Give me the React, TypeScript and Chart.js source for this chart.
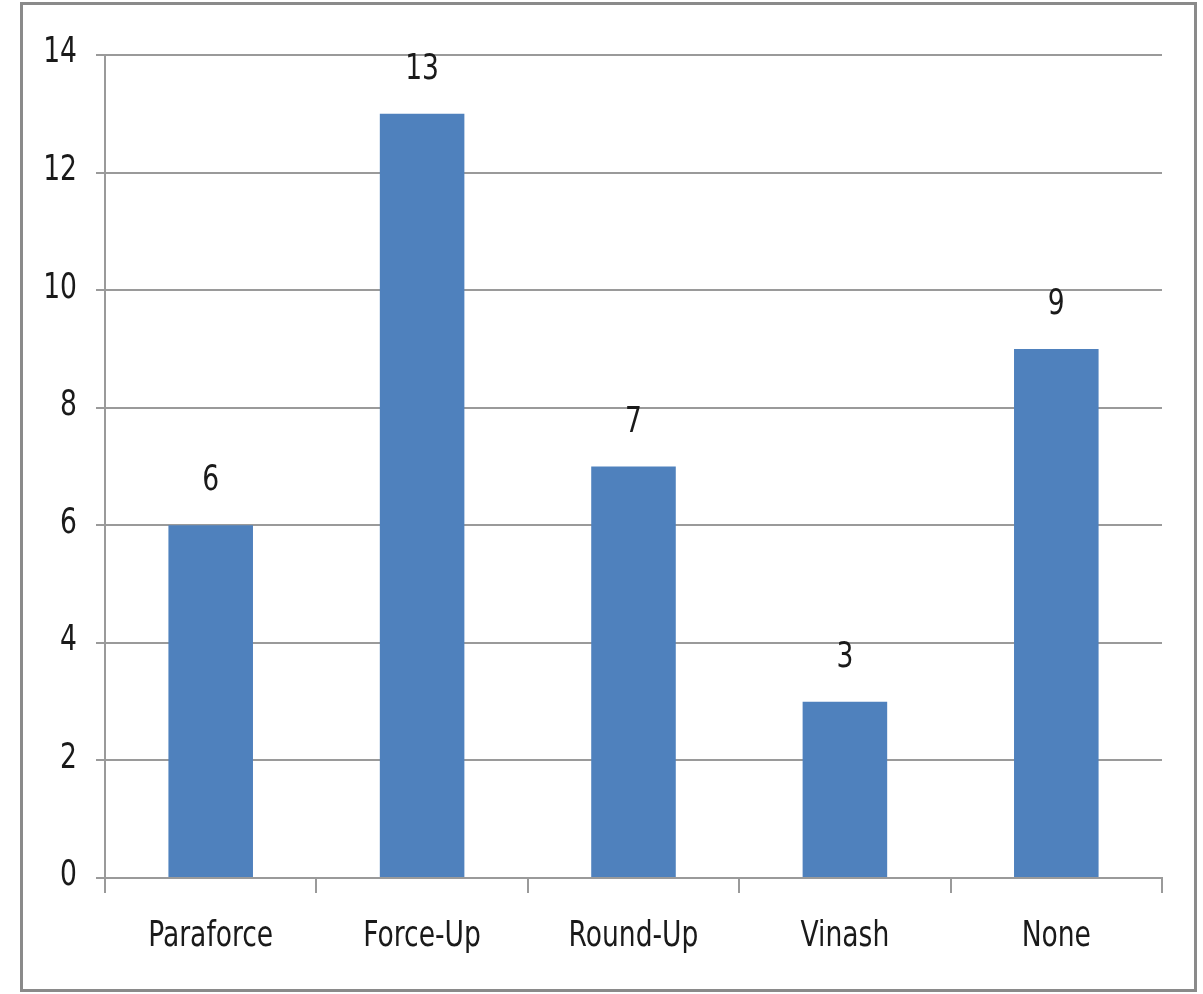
import React, { useEffect, useRef } from "react";
import { Chart, registerables } from "chart.js";

Chart.register(...registerables);

const categories = ["Paraforce", "Force-Up", "Round-Up", "Vinash", "None"];
const values = [6, 13, 7, 3, 9];
const yTicks = [0, 2, 4, 6, 8, 10, 12, 14];

const FONT = "'Liberation Sans Narrow', 'DejaVu Sans Condensed', 'Arial Narrow', sans-serif";
const BAR_COLOR = "#4F81BD";
const GRID = "#9a9a9a";
const TEXT = "#1a1a1a";
const SX = 0.82;

function drawText(ctx: CanvasRenderingContext2D, text: string, x: number, y: number, align: CanvasTextAlign) {
  ctx.save();
  ctx.translate(x, y);
  ctx.scale(SX, 1);
  ctx.textAlign = align;
  ctx.fillText(text, 0, 0);
  ctx.restore();
}

const textPlugin = {
  id: "textPlugin",
  afterDatasetsDraw(chart: any) {
    const ctx = chart.ctx as CanvasRenderingContext2D;
    const meta = chart.getDatasetMeta(0);
    const xs = chart.scales.x;
    const ys = chart.scales.y;
    ctx.save();
    ctx.font = `36px ${FONT}`;
    ctx.fillStyle = TEXT;
    // data labels
    ctx.textBaseline = "alphabetic";
    meta.data.forEach((el: any, i: number) => {
      drawText(ctx, String(values[i]), el.x, el.y - 35, "center");
    });
    // y tick labels
    ctx.textBaseline = "middle";
    yTicks.forEach((v) => {
      drawText(ctx, String(v), ys.right - 28, ys.getPixelForValue(v) - 2, "right");
    });
    // x tick labels
    categories.forEach((c, i) => {
      drawText(ctx, c, xs.getPixelForTick(i), xs.top + 59, "center");
    });
    ctx.restore();
  },
};

export default function App() {
  const ref = useRef<HTMLCanvasElement | null>(null);

  useEffect(() => {
    document.body.style.margin = "0";
    if (!ref.current) return;
    const chart = new Chart(ref.current, {
      type: "bar",
      data: {
        labels: categories,
        datasets: [
          {
            data: values,
            backgroundColor: BAR_COLOR,
            borderWidth: 0,
            barPercentage: 0.4,
            categoryPercentage: 1,
          },
        ],
      },
      options: {
        animation: false,
        responsive: false,
        maintainAspectRatio: false,
        layout: { padding: { left: 0, top: 55, right: 41, bottom: 0 } },
        plugins: {
          legend: { display: false },
          tooltip: { enabled: false },
        },
        scales: {
          x: {
            afterFit(scale: any) {
              scale.height = 116;
            },
            grid: {
              offset: true,
              drawOnChartArea: false,
              drawTicks: true,
              tickLength: 15,
              color: GRID,
              lineWidth: 2,
            },
            border: { color: GRID, width: 2 },
            ticks: { display: false, autoSkip: false },
          },
          y: {
            min: 0,
            max: 14,
            afterFit(scale: any) {
              scale.width = 105;
            },
            afterBuildTicks(scale: any) {
              scale.ticks = yTicks.map((v) => ({ value: v }));
            },
            grid: {
              color: GRID,
              lineWidth: 2,
              drawTicks: true,
              tickLength: 9,
            },
            border: { color: GRID, width: 2 },
            ticks: { display: false, stepSize: 2 },
          },
        },
      },
      plugins: [textPlugin],
    });
    return () => chart.destroy();
  }, []);

  return (
    <div style={{ position: "relative", width: 1203, height: 994, background: "#fff" }}>
      <canvas ref={ref} width={1203} height={994} style={{ position: "absolute", left: 0, top: 0, width: 1203, height: 994 }} />
      <div
        style={{
          position: "absolute",
          left: 20,
          top: 2,
          width: 1177 - 6,
          height: 990 - 6,
          border: "3px solid #8a8a8a",
          pointerEvents: "none",
        }}
      />
    </div>
  );
}
